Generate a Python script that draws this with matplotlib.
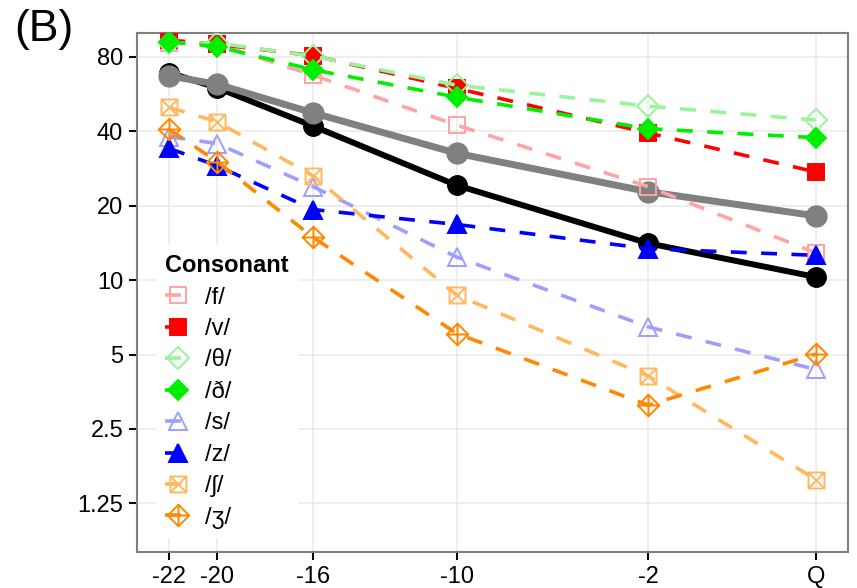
import numpy as np
import matplotlib
matplotlib.use("Agg")
import matplotlib.pyplot as plt
from matplotlib.path import Path

plt.rcParams['font.family'] = ['Liberation Sans', 'DejaVu Sans']

# time points (Q drawn at x = 5)
x_labels = ["-22", "-20", "-16", "-10", "-2", "Q"]
x_pos = [-22, -20, -16, -10, -2, 5]

overall_black = [69, 60, 42, 24.2, 14.1, 10.3]
overall_gray = [67, 62, 47.5, 32.6, 22.8, 18.2]

consonants = ["/f/", "/v/", "/θ/", "/ð/", "/s/", "/z/", "/ʃ/", "/ʒ/"]
vals_f = [91, 90, 67.5, 42.4, 23.9, 12.9]
vals_v = [93.6, 90, 81, 59.7, 39.4, 27.4]
vals_th = [91, 91, 80.6, 61.5, 50.6, 44.4]
vals_dh = [92, 88, 71, 55, 41, 37.7]
vals_s = [38, 35.7, 23.9, 12.4, 6.47, 4.35]
vals_z = [34.1, 29, 19.3, 16.8, 13.4, 12.6]
vals_sh = [50, 43.7, 26.4, 8.7, 4.09, 1.56]
vals_zh = [40.7, 30.1, 14.9, 6.08, 3.12, 5.02]

y_ticks = [1.25, 2.5, 5, 10, 20, 40, 80]

# ggplot-like shapes: square with X, diamond with plus
sq_x = Path([(-1, -1), (1, -1), (1, 1), (-1, 1), (-1, -1),
             (-1, -1), (1, 1), (-1, 1), (1, -1)],
            [Path.MOVETO, Path.LINETO, Path.LINETO, Path.LINETO, Path.CLOSEPOLY,
             Path.MOVETO, Path.LINETO, Path.MOVETO, Path.LINETO])
dia_plus = Path([(0, 1), (1, 0), (0, -1), (-1, 0), (0, 1),
                 (-1, 0), (1, 0), (0, -1), (0, 1)],
                [Path.MOVETO, Path.LINETO, Path.LINETO, Path.LINETO, Path.CLOSEPOLY,
                 Path.MOVETO, Path.LINETO, Path.MOVETO, Path.LINETO])

styles = [
    (vals_f, "#FFA3A3", "s", False, 11),
    (vals_v, "#FF0000", "s", True, 11),
    (vals_th, "#99F599", "D", False, 11.5),
    (vals_dh, "#00EE00", "D", True, 10.5),
    (vals_s, "#9E9EFF", "^", False, 13),
    (vals_z, "#0000FF", "^", True, 13),
    (vals_sh, "#FFB85C", sq_x, False, 11.5),
    (vals_zh, "#FF8800", dia_plus, False, 15.5),
]

fig = plt.figure(figsize=(8.57, 5.88), dpi=100)
ax = fig.add_axes([0.16, 0.0612, 0.8295, 0.8827])

ax.plot(x_pos, overall_black, color="black", lw=4.3, marker="o", ms=14, zorder=3)
ax.plot(x_pos, overall_gray, color="#808080", lw=5, marker="o", ms=15, zorder=3)

handles = []
for (vals, col, mk, filled, ms), name in zip(styles, consonants):
    h, = ax.plot(x_pos, vals, color=col, lw=2.6, dashes=(4.4, 4.0),
                 marker=mk, ms=ms, markeredgewidth=1.4,
                 markerfacecolor=col if filled else "none",
                 markeredgecolor=col, label=name, zorder=4)
    handles.append(h)

ax.set_yscale("log")
ax.set_ylim(0.794, 100)
ax.set_xlim(-23.35, 6.35)
ax.set_yticks(y_ticks)
ax.set_yticklabels(["1.25", "2.5", "5", "10", "20", "40", "80"])
ax.minorticks_off()
ax.set_xticks(x_pos)
ax.set_xticklabels(x_labels)

ax.grid(True, color="#EBEBEB", lw=1.2, zorder=0)
ax.set_axisbelow(True)
for sp in ax.spines.values():
    sp.set_color("#7F7F7F")
    sp.set_linewidth(1.5)
ax.tick_params(axis="both", length=6, width=1.5, color="black",
               labelsize=17, labelcolor="black", pad=4)

leg = ax.legend(handles=handles, title="Consonant", loc="upper left",
                bbox_to_anchor=(0.168, 0.604), bbox_transform=fig.transFigure,
                frameon=True, facecolor="white", edgecolor="none", framealpha=1,
                fontsize=17, title_fontsize=17, handlelength=1.1,
                labelspacing=0.4, borderpad=0.4, handletextpad=0.6)
leg.get_title().set_fontweight("bold")
leg._legend_box.align = "left"

fig.text(0.017, 0.985, "(B)", fontsize=32, va="top", ha="left")

fig.savefig("out.png", dpi=100)
